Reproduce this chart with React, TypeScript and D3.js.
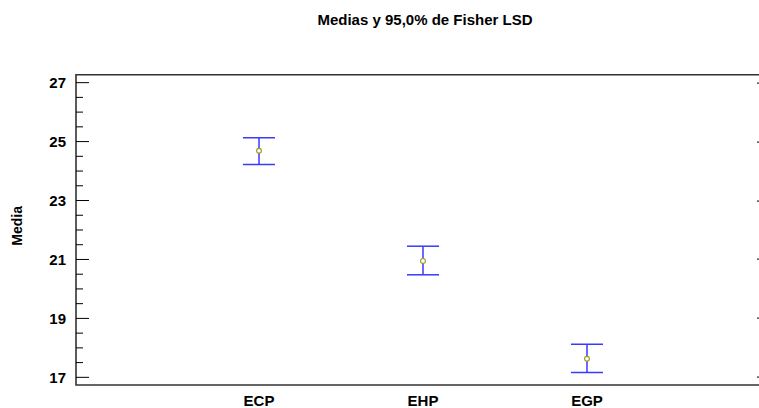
import React from "react";
import * as d3 from "d3";

// Group means with Fisher LSD 95% intervals
const categories = ["ECP", "EHP", "EGP"];
const means = [24.69, 20.95, 17.63];
const lower = [24.22, 20.48, 17.16];
const upper = [25.13, 21.45, 18.12];
const yMajorTicks = [17, 19, 21, 23, 25, 27];
const yMinorTicks = d3.range(17, 27.01, 0.5).filter((v) => !yMajorTicks.includes(v));

const title = "Medias y 95,0% de Fisher LSD";
const yLabel = "Media";

const W = 759;
const H = 408;
const frame = { left: 76, top: 74.7, right: 770, bottom: 385 };
const font = "'Liberation Sans', Arial, sans-serif";

export default function App() {
  const y = d3.scaleLinear().domain([16.74, 27.27]).range([frame.bottom, frame.top]);
  const x = d3
    .scalePoint<string>()
    .domain(categories)
    .range([frame.left, frame.right])
    .padding(1.116);

  const capHalf = 16;
  const blue = "#3a3aff";

  const framePath = d3.path();
  framePath.moveTo(frame.right, frame.top);
  framePath.lineTo(frame.left, frame.top);
  framePath.lineTo(frame.left, frame.bottom);
  framePath.lineTo(frame.right, frame.bottom);

  return (
    <svg
      width={W}
      height={H}
      style={{ position: "absolute", left: 0, top: 0, background: "#fff" }}
    >
      <text
        x={425}
        y={25}
        textAnchor="middle"
        fontFamily={font}
        fontWeight="bold"
        fontSize={15}
        fill="#000"
      >
        {title}
      </text>

      {/* plot frame (right side runs past the visible area) */}
      <path d={framePath.toString()} fill="none" stroke="#333" strokeWidth={1.6} />

      {/* value axis: labelled major ticks, minor ticks every 0.5 */}
      {yMajorTicks.map((t) => (
        <g key={`maj${t}`}>
          <line x1={frame.left} x2={frame.left + 13} y1={y(t)} y2={y(t)} stroke="#000" strokeWidth={1} />
          <rect x={frame.right - 13} y={Math.round(y(t)) - 0.5} width={13} height={1.2} fill="#222" />
          <text
            x={frame.left - 10}
            y={y(t)}
            dy="0.36em"
            textAnchor="end"
            fontFamily={font}
            fontWeight="bold"
            fontSize={15}
            fill="#000"
          >
            {t}
          </text>
        </g>
      ))}
      {yMinorTicks.map((t) => (
        <line key={`min${t}`} x1={frame.left} x2={frame.left + 7} y1={y(t)} y2={y(t)} stroke="#000" strokeWidth={1} />
      ))}

      <text
        transform={`translate(22, ${(frame.top + frame.bottom) / 2 - 4}) rotate(-90)`}
        textAnchor="middle"
        fontFamily={font}
        fontWeight="bold"
        fontSize={14}
        fill="#000"
      >
        {yLabel}
      </text>

      {/* category labels */}
      {categories.map((c) => (
        <text
          key={c}
          x={x(c)}
          y={frame.bottom + 20.5}
          textAnchor="middle"
          fontFamily={font}
          fontWeight="bold"
          fontSize={15}
          fill="#000"
        >
          {c}
        </text>
      ))}

      {/* intervals with mean markers */}
      {categories.map((c, i) => {
        const cx = x(c) as number;
        return (
          <g key={`bar${c}`}>
            <line x1={cx} x2={cx} y1={y(upper[i])} y2={y(lower[i])} stroke={blue} strokeWidth={1.5} />
            <line x1={cx - capHalf} x2={cx + capHalf} y1={y(upper[i])} y2={y(upper[i])} stroke={blue} strokeWidth={1.5} />
            <line x1={cx - capHalf} x2={cx + capHalf} y1={y(lower[i])} y2={y(lower[i])} stroke={blue} strokeWidth={1.5} />
            <circle cx={cx} cy={y(means[i])} r={2.4} fill="#fff" stroke="#9a9a1a" strokeWidth={1.1} />
          </g>
        );
      })}
    </svg>
  );
}
